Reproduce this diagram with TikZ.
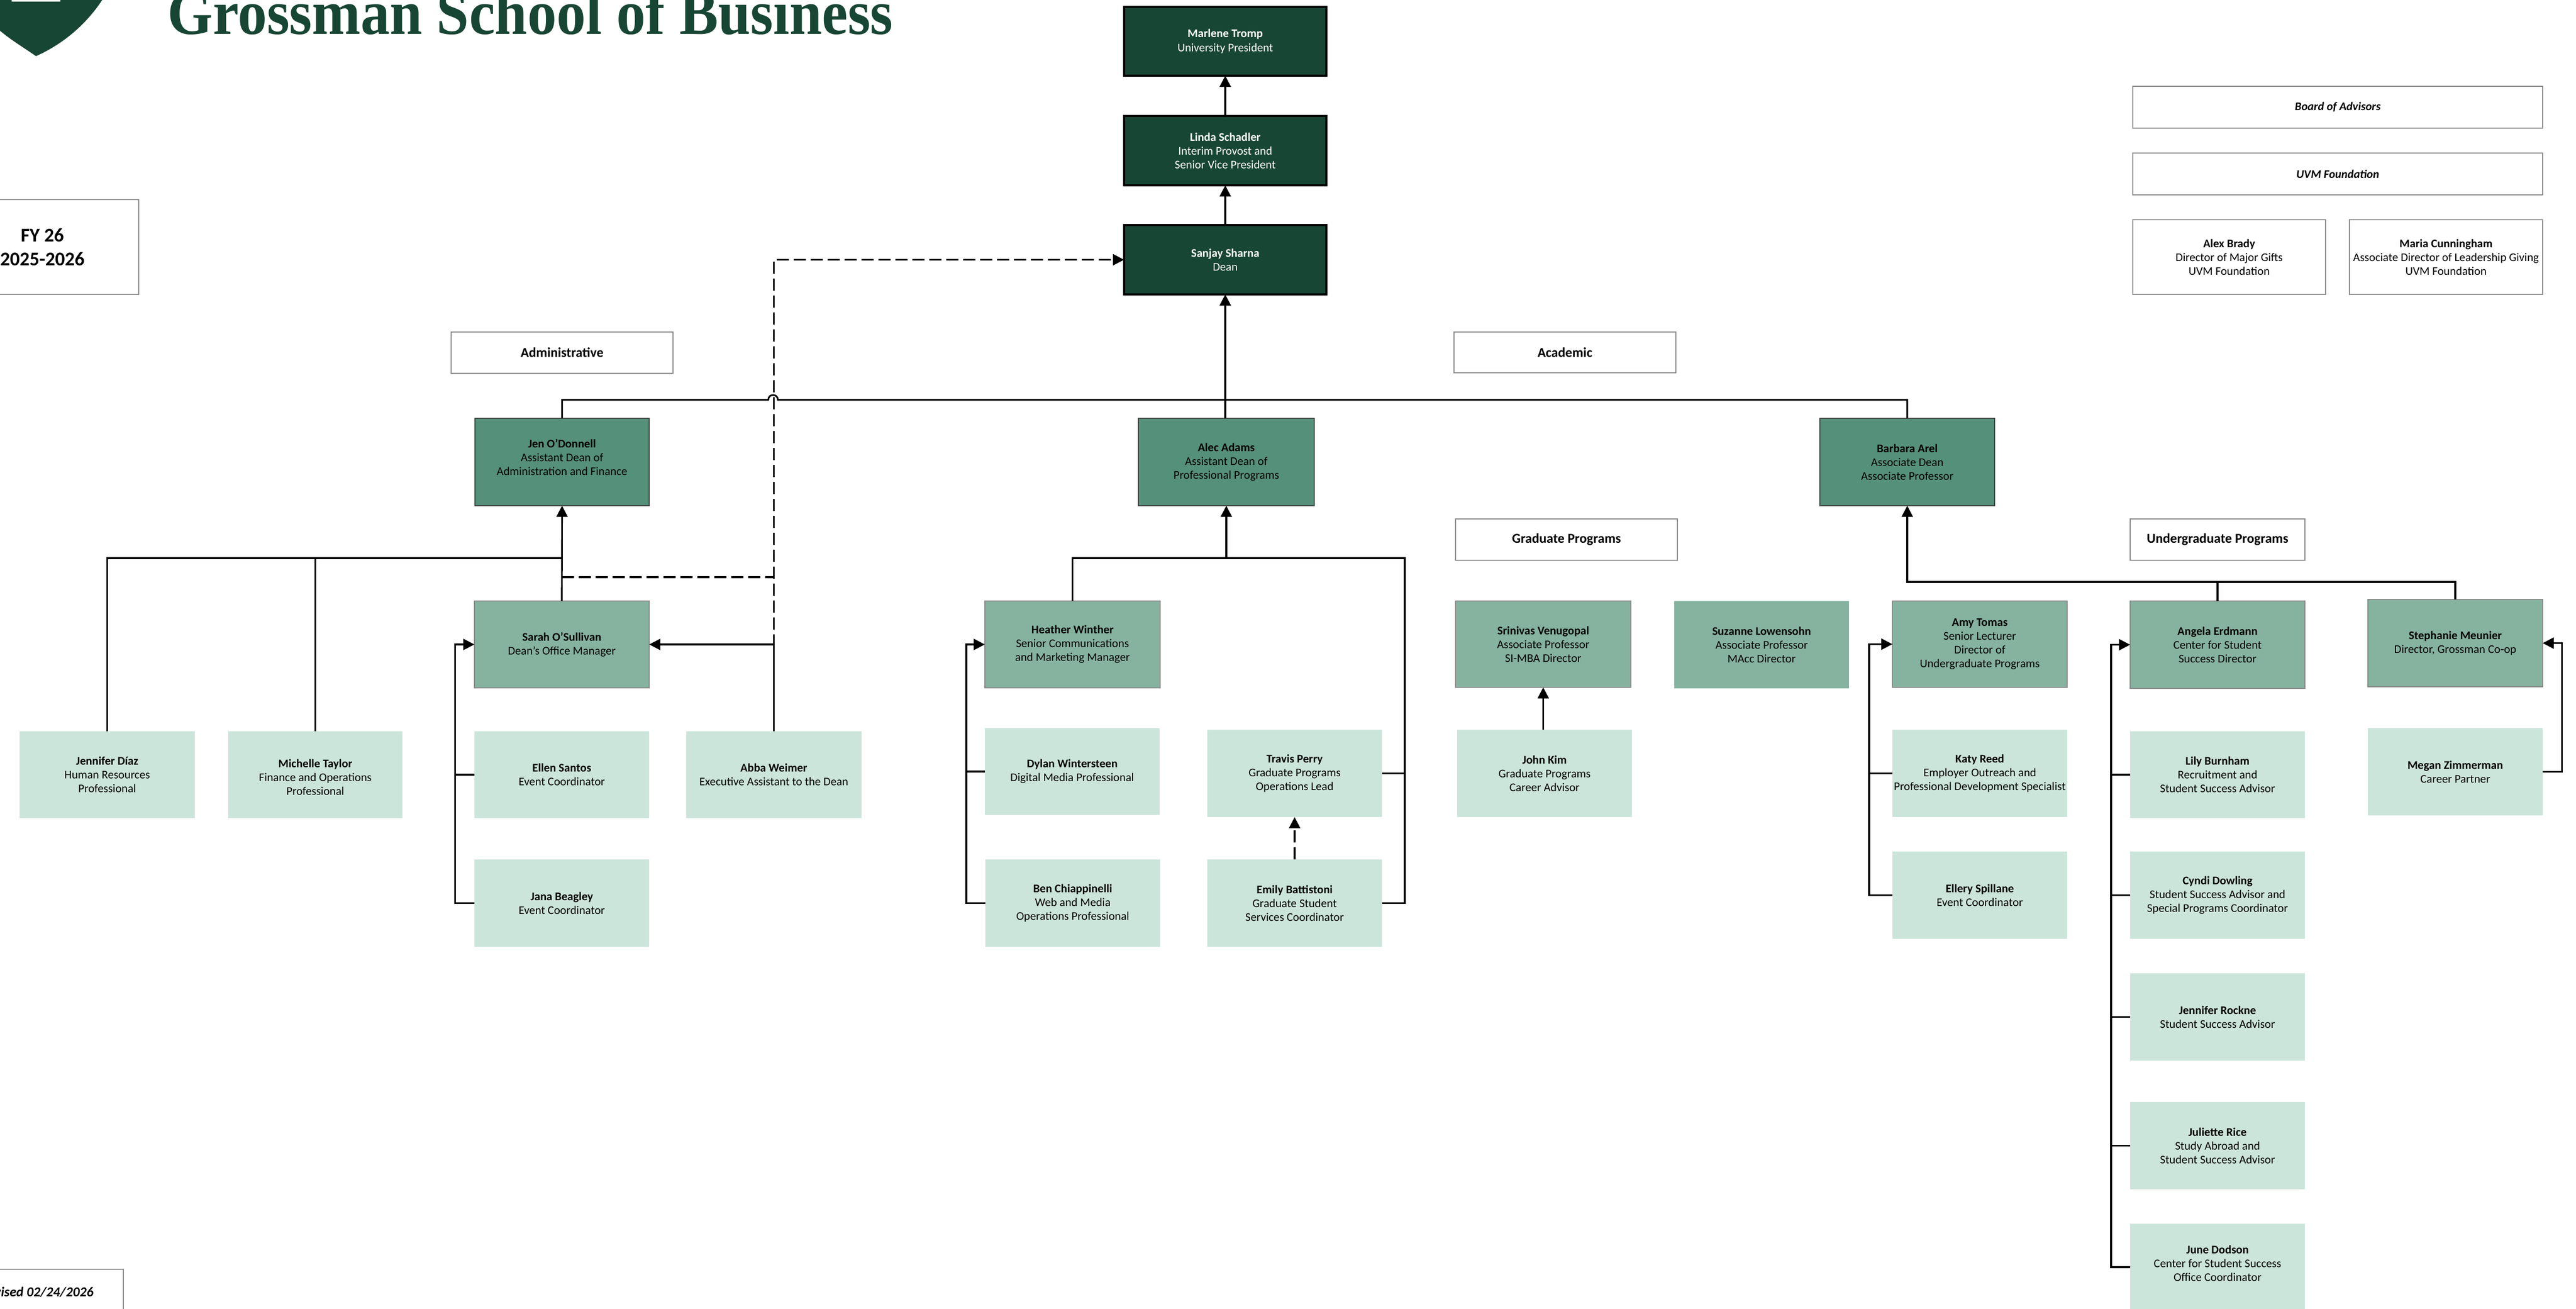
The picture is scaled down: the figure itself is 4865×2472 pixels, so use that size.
\documentclass[tikz,border=0pt]{standalone}
\usepackage{fontspec}
\usepackage{graphicx}
\setmainfont{Carlito}
\newfontfamily\titlefont{Liberation Serif}
\usetikzlibrary{arrows.meta}
\definecolor{dk}{HTML}{184634}
\definecolor{md}{HTML}{55907A}
\definecolor{lm}{HTML}{85B3A0}
\definecolor{lt}{HTML}{CCE5DB}
\definecolor{gb}{HTML}{8A8A8A}
\newcommand{\bx}[7]{\node[#2,minimum width={(#5-#3)*0.284527pt},minimum height={(#6-#4)*0.284527pt}] (#1) at ({(#3+#5)/2},{(#4+#6)/2}) {#7};}
\newcommand{\lift}[1]{\rule[-#1]{0pt}{0pt}}
\tikzset{
  base/.style={rectangle,inner sep=0pt,outer sep=0pt,align=center,font=\fontsize{6.3}{7.4}\selectfont},
  darkbox/.style={base,fill=dk,draw=black,line width=1.1pt,text=white},
  midbox/.style={base,fill=md,draw=black!75,line width=.7pt,text=black},
  lmbox/.style={base,fill=lm,draw=gb,line width=.6pt,text=black},
  lmplain/.style={base,fill=lm,text=black},
  ltbox/.style={base,fill=lt,text=black},
  whitebox/.style={base,fill=white,draw=gb,line width=.6pt,text=black},
  headbox/.style={whitebox,font=\fontsize{7.3}{9}\selectfont\bfseries},
  conn/.style={draw=black,line width=.9pt},
  arr/.style={conn,-{Triangle[length=6pt 0 0,width=6pt 0 0]}},
  dashline/.style={conn,dash pattern=on 6.5pt off 2.6pt},
  dasharr/.style={arr,dash pattern=on 6.5pt off 2.6pt},
}
\begin{document}
\begin{tikzpicture}[x=0.01cm,y=-0.01cm]
\useasboundingbox (0,0) rectangle (4865,2472);
\clip (0,0) rectangle (4865,2472);
% logo
\fill[dk] (193,0) .. controls (160,50) and (115,85) .. (68,106) .. controls (45,90) and (20,75) .. (0,58) -- (0,0) -- cycle;
\fill[white] (22,0) rectangle (114,3);
\node[anchor=base west,inner sep=0pt,text=dk] (title) at (316,64) {\scalebox{0.92}[1]{\fontsize{34}{40}\selectfont\titlefont\bfseries Grossman School of Business}};
% top
\bx{fy}{whitebox,font=\fontsize{10.4}{13}\selectfont\bfseries}{-102}{377}{262}{556}{FY 26\\2025-2026}
\bx{rev}{whitebox,font=\fontsize{7.3}{9}\selectfont\bfseries\itshape}{-93}{2397}{233}{2483}{Revised 02/24/2026}
\bx{marlene}{darkbox}{2123}{13}{2505}{143}{\textbf{Marlene Tromp}\\University President}
\bx{linda}{darkbox}{2123}{219}{2505}{350}{\textbf{Linda Schadler}\\Interim Provost and\\Senior Vice President}
\bx{sanjay}{darkbox}{2123}{425}{2505}{556}{\textbf{Sanjay Sharna}\\Dean}
\bx{admin}{headbox}{852}{627}{1271}{705}{Administrative}
\bx{acad}{headbox}{2746}{627}{3165}{704}{Academic}
\bx{gradh}{headbox}{2749}{980}{3168}{1058}{Graduate Programs}
\bx{ugh}{headbox}{4023}{980}{4353}{1058}{Undergraduate Programs}
\bx{board}{whitebox,font=\fontsize{6.3}{7.4}\selectfont\bfseries\itshape}{4028}{163}{4802}{242}{Board of Advisors}
\bx{uvm}{whitebox,font=\fontsize{6.3}{7.4}\selectfont\bfseries\itshape}{4028}{289}{4802}{368}{UVM Foundation}
\bx{alex}{whitebox}{4028}{415}{4392}{556}{\textbf{Alex Brady}\\Director of Major Gifts\\UVM Foundation}
\bx{maria}{whitebox}{4437}{415}{4802}{556}{\textbf{Maria Cunningham}\\Associate Director of Leadership Giving\\UVM Foundation}
% deans
\bx{jen}{midbox}{897}{790}{1226}{955}{\textbf{Jen O'Donnell}\\Assistant Dean of\\Administration and Finance\lift{5pt}}
\bx{alec}{midbox}{2150}{790}{2482}{955}{\textbf{Alec Adams}\\Assistant Dean of\\Professional Programs}
\bx{barbara}{midbox}{3437}{790}{3767}{955}{\textbf{Barbara Arel}\\Associate Dean\\Associate Professor}
% admin
\bx{sarah}{lmbox}{896}{1135}{1226}{1299}{\textbf{Sarah O'Sullivan}\\Dean's Office Manager}
\bx{jdiaz}{ltbox}{37}{1381}{368}{1545}{\textbf{Jennifer Díaz}\\Human Resources\\Professional}
\bx{michelle}{ltbox}{431}{1381}{760}{1545}{\rule{0pt}{7.4pt}\textbf{Michelle Taylor}\\Finance and Operations\\Professional}
\bx{ellen}{ltbox}{896}{1381}{1226}{1545}{\textbf{Ellen Santos}\\Event Coordinator}
\bx{abba}{ltbox}{1296}{1381}{1627}{1545}{\textbf{Abba Weimer}\\Executive Assistant to the Dean}
\bx{jana}{ltbox}{896}{1623}{1226}{1788}{\textbf{Jana Beagley}\\Event Coordinator}
% professional
\bx{heather}{lmbox}{1860}{1135}{2191}{1299}{\textbf{Heather Winther}\\Senior Communications\\and Marketing Manager}
\bx{dylan}{ltbox}{1860}{1375}{2190}{1539}{\textbf{Dylan Wintersteen}\\Digital Media Professional}
\bx{ben}{ltbox}{1861}{1623}{2191}{1788}{\textbf{Ben Chiappinelli}\\Web and Media\\Operations Professional}
\bx{travis}{ltbox}{2280}{1378}{2610}{1543}{\textbf{Travis Perry}\\Graduate Programs\\Operations Lead}
\bx{emily}{ltbox}{2280}{1623}{2610}{1788}{\textbf{Emily Battistoni}\\Graduate Student\\Services Coordinator}
% academic
\bx{srini}{lmbox}{2749}{1135}{3080}{1298}{\textbf{Srinivas Venugopal}\\Associate Professor\\SI-MBA Director}
\bx{john}{ltbox}{2752}{1378}{3082}{1543}{\textbf{John Kim}\\Graduate Programs\\Career Advisor}
\bx{suzanne}{lmplain}{3162}{1135}{3492}{1300}{\textbf{Suzanne Lowensohn}\\Associate Professor\\MAcc Director}
\bx{amy}{lmbox}{3574}{1135}{3904}{1298}{\textbf{Amy Tomas}\\Senior Lecturer\\Director of\\Undergraduate Programs}
\bx{katy}{ltbox}{3574}{1378}{3904}{1543}{\textbf{Katy Reed}\\Employer Outreach and\\Professional Development Specialist}
\bx{ellery}{ltbox}{3574}{1608}{3904}{1773}{\textbf{Ellery Spillane}\\Event Coordinator}
\bx{angela}{lmbox}{4023}{1135}{4353}{1300}{\textbf{Angela Erdmann}\\Center for Student\\Success Director}
\bx{lily}{ltbox}{4023}{1381}{4353}{1545}{\textbf{Lily Burnham}\\Recruitment and\\Student Success Advisor}
\bx{cyndi}{ltbox}{4023}{1608}{4353}{1773}{\textbf{Cyndi Dowling}\\Student Success Advisor and\\Special Programs Coordinator}
\bx{rockne}{ltbox}{4023}{1838}{4353}{2003}{\textbf{Jennifer Rockne}\\Student Success Advisor}
\bx{juliette}{ltbox}{4023}{2081}{4353}{2246}{\textbf{Juliette Rice}\\Study Abroad and\\Student Success Advisor}
\bx{june}{ltbox}{4023}{2311}{4353}{2475}{\textbf{June Dodson}\\Center for Student Success\\Office Coordinator\lift{4pt}}
\bx{stephanie}{lmbox}{4472}{1132}{4802}{1297}{\textbf{Stephanie Meunier}\\Director, Grossman Co-op}
\bx{megan}{ltbox}{4472}{1375}{4802}{1540}{\textbf{Megan Zimmerman}\\Career Partner}
% bus coordinates
\coordinate (topbus) at (2314,755);
\coordinate (bumpL) at (1451,755);
\coordinate (bumpR) at (1469,755);
\coordinate (adminbus) at (1061,1054);
\coordinate (probus) at (2653,1054);
\coordinate (ugbus) at (4637,1099);
\coordinate (dashbend) at (1461,1090);
% connectors: top
\draw[arr] (linda.north) -- (marlene.south);
\draw[arr] (sanjay.north) -- (linda.south);
\draw[arr] (sanjay.south |- alec.north) -- (sanjay.south);
\draw[conn] (jen.north) |- (bumpL) .. controls (1451,743) and (1469,743) .. (bumpR) -- (barbara.north |- topbus) -- (barbara.north);
% admin
\draw[arr] (sarah.north) -- (jen.south);
\draw[conn] (jdiaz.north) |- (adminbus);
\draw[conn] (michelle.north) -- (michelle.north |- adminbus);
\draw[arr] (jana.west) -- ++(-36,0) |- (sarah.west);
\draw[conn] (ellen.west) -- ++(-36,0);
\draw[arr] (abba.north) |- (sarah.east);
\draw[dasharr] (abba.north) |- (sanjay.west);
\draw[dashline] (sarah.north |- dashbend) -- (dashbend);
% professional
\draw[arr] (alec.south |- probus) -- (alec.south);
\draw[conn] (heather.north) |- (probus) |- (emily.east);
\draw[conn] (travis.east) -- (travis.east -| probus);
\draw[arr] (ben.west) -- ++(-36,0) |- (heather.west);
\draw[conn] (dylan.west) -- ++(-35,0);
\draw[dasharr] (emily.north) -- (travis.south);
% academic
\draw[arr] (john.north -| srini.south) -- (srini.south);
\draw[arr] (stephanie.north) |- (barbara.south |- ugbus) -- (barbara.south);
\draw[conn] (angela.north) -- (angela.north |- ugbus);
\draw[arr] (ellery.west) -- ++(-44,0) |- (amy.west);
\draw[conn] (katy.west) -- ++(-44,0);
\draw[arr] (june.west) -- ++(-36,0) |- (angela.west);
\draw[conn] (lily.west) -- ++(-36,0);
\draw[conn] (cyndi.west) -- ++(-36,0);
\draw[conn] (rockne.west) -- ++(-36,0);
\draw[conn] (juliette.west) -- ++(-36,0);
\draw[arr] (megan.east) -- ++(36,0) |- (stephanie.east);
\end{tikzpicture}
\end{document}
